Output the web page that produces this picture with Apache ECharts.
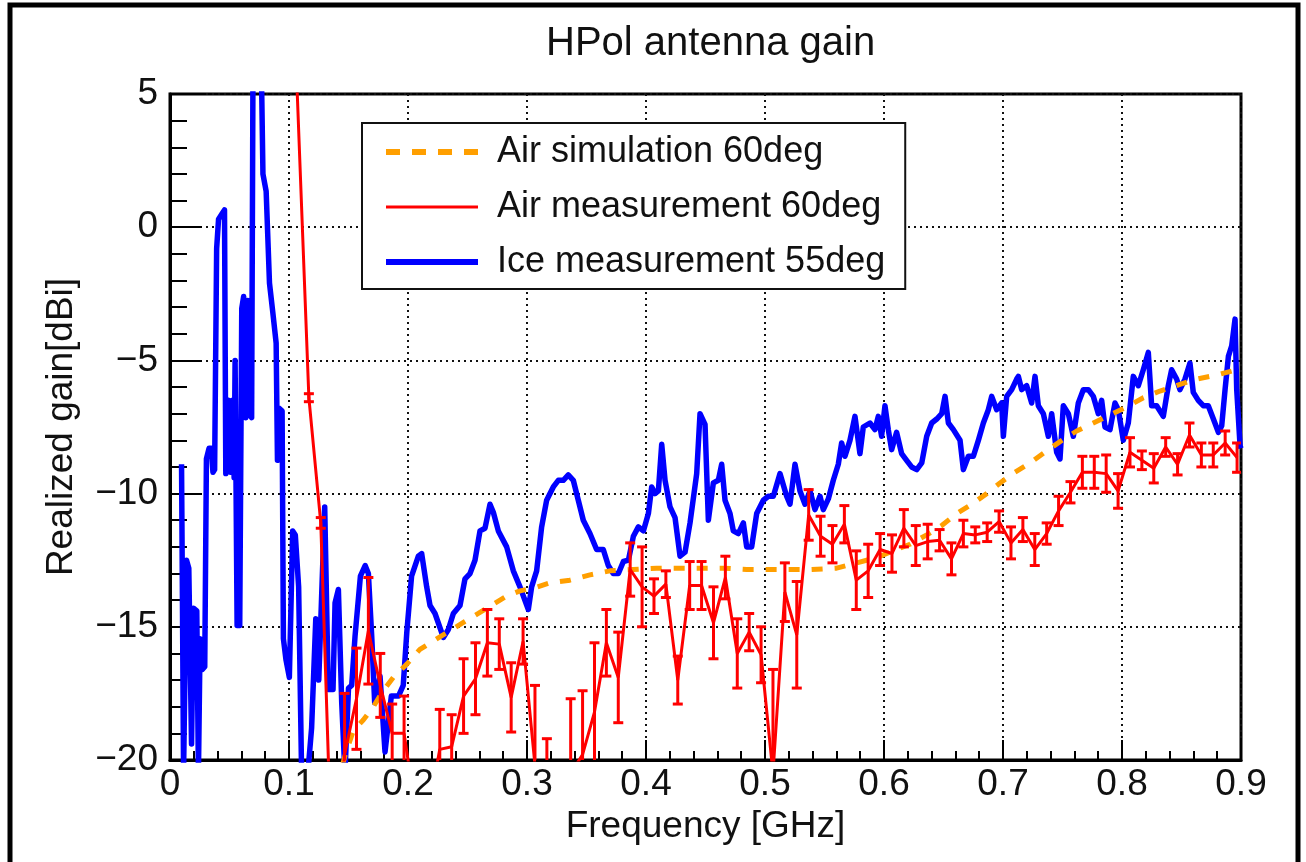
<!DOCTYPE html>
<html>
<head>
<meta charset="utf-8">
<title>HPol antenna gain</title>
<script src="https://cdn.jsdelivr.net/npm/echarts@6/dist/echarts.min.js"></script>
<style>
  html, body { margin: 0; padding: 0; background: #fff; }
  #chart { width: 1306px; height: 862px; }
</style>
</head>
<body>
<div id="chart"></div>
<script>
// Axis ranges and tick labels
const freqMin = 0, freqMax = 0.9, freqStep = 0.1;
const gainMin = -20, gainMax = 5, gainStep = 5;

// Air simulation, 60 deg (GHz, dBi)
const simFreq = [0.1450,0.1470,0.1540,0.1624,0.1708,0.1792,0.1876,0.1990,0.2100,0.2241,0.2353,0.2479,0.2591,0.2717,0.2829,0.2941,0.3053,0.3193,0.3361,0.3529,0.3697,0.3894,0.4090,0.4258,0.4454,0.4650,0.4846,0.5042,0.5238,0.5378,0.5602,0.5770,0.5938,0.6078,0.6218,0.6359,0.6485,0.6611,0.6737,0.6863,0.6975,0.7101,0.7227,0.7367,0.7479,0.7619,0.7759,0.7899,0.8039,0.8179,0.8319,0.8487,0.8627,0.8796,0.8964,0.9000];
const simGain = [-20.2,-19.85,-18.9,-18.5,-18.0,-17.4,-16.9,-16.4,-15.85,-15.45,-15.15,-14.8,-14.5,-14.15,-13.85,-13.65,-13.55,-13.35,-13.25,-13.05,-12.9,-12.85,-12.8,-12.8,-12.8,-12.8,-12.85,-12.85,-12.85,-12.85,-12.8,-12.6,-12.4,-12.15,-11.9,-11.55,-11.2,-10.75,-10.4,-10.0,-9.6,-9.2,-8.85,-8.4,-8.05,-7.65,-7.35,-7.05,-6.75,-6.4,-6.15,-5.9,-5.7,-5.55,-5.35,-5.3];

// Air measurement, 60 deg, with symmetric uncertainty
const airFreq = [0.1067,0.1167,0.1267,0.1367,0.1467,0.1567,0.1667,0.1767,0.1867,0.1967,0.2067,0.2167,0.2267,0.2367,0.2467,0.2567,0.2667,0.2767,0.2867,0.2967,0.3067,0.3167,0.3267,0.3367,0.3467,0.3567,0.3667,0.3767,0.3867,0.3967,0.4067,0.4167,0.4267,0.4367,0.4467,0.4567,0.4667,0.4767,0.4867,0.4967,0.5067,0.5167,0.5267,0.5367,0.5467,0.5567,0.5667,0.5767,0.5867,0.5967,0.6067,0.6167,0.6267,0.6367,0.6467,0.6567,0.6667,0.6767,0.6867,0.6967,0.7067,0.7167,0.7267,0.7367,0.7467,0.7567,0.7667,0.7767,0.7867,0.7967,0.8067,0.8167,0.8267,0.8367,0.8467,0.8567,0.8667,0.8767,0.8867,0.8967];
const airGain = [5.3,-6.4,-11.1,-25.0,-19.8,-17.7,-15.15,-17.2,-19.0,-19.0,-22.0,-22.0,-19.6,-19.5,-17.6,-16.95,-15.6,-15.65,-17.65,-15.55,-20.2,-21.0,-23.0,-20.5,-19.8,-18.2,-15.6,-16.9,-12.85,-13.5,-13.85,-13.4,-17.0,-13.45,-13.45,-14.85,-13.15,-16.0,-15.2,-16.05,-20.5,-13.7,-15.3,-10.8,-11.6,-11.9,-11.15,-13.25,-12.9,-12.1,-12.25,-11.3,-11.95,-11.8,-11.75,-12.45,-11.5,-11.55,-11.45,-11.05,-11.85,-11.35,-12.1,-11.5,-10.65,-9.95,-9.2,-9.2,-9.25,-9.9,-8.45,-8.75,-9.05,-8.25,-8.9,-7.8,-8.55,-8.55,-8.1,-8.65];
const airErr = [0,0.15,0.2,0,2.3,1.9,2.0,1.2,1.1,1.4,0.5,0.5,1.5,1.2,1.4,1.35,1.25,0.95,1.3,0.85,3.0,1.8,1.5,2.8,2.4,2.6,1.25,1.7,1.0,1.5,0.65,0.5,0.9,0.9,0.9,1.35,0.8,1.3,0.7,1.05,3.9,1.1,2.0,0.95,0.75,0.7,0.7,1.1,1.0,0.6,0.7,0.7,0.75,0.65,0.4,0.6,0.5,0.3,0.35,0.4,0.6,0.45,0.6,0.4,0.55,0.4,0.6,0.6,0.7,0.65,0.55,0.35,0.55,0.35,0.4,0.45,0.45,0.45,0.45,0.55];

// Ice measurement, 55 deg
const iceFreq = [0.0097,0.0114,0.0139,0.0158,0.0181,0.0197,0.0225,0.0239,0.0253,0.0272,0.0292,0.0306,0.0328,0.0347,0.0361,0.0375,0.0392,0.0408,0.0436,0.0458,0.0469,0.0492,0.0508,0.0525,0.0539,0.0547,0.0564,0.0586,0.0603,0.0619,0.0636,0.0653,0.0669,0.0686,0.0697,0.0730,0.0769,0.0781,0.0808,0.0836,0.0864,0.0892,0.0903,0.0919,0.0942,0.0953,0.0975,0.1003,0.1031,0.1053,0.1081,0.1106,0.1162,0.1190,0.1225,0.1250,0.1300,0.1330,0.1370,0.1387,0.1415,0.1443,0.1470,0.1500,0.1527,0.1555,0.1600,0.1640,0.1667,0.1695,0.1720,0.1765,0.1807,0.1860,0.1920,0.1960,0.1990,0.2030,0.2087,0.2115,0.2157,0.2185,0.2227,0.2297,0.2339,0.2381,0.2437,0.2479,0.2521,0.2563,0.2605,0.2647,0.2689,0.2717,0.2759,0.2829,0.2885,0.2941,0.3011,0.3039,0.3081,0.3123,0.3165,0.3221,0.3263,0.3305,0.3347,0.3389,0.3431,0.3473,0.3529,0.3585,0.3641,0.3683,0.3725,0.3768,0.3810,0.3852,0.3894,0.3936,0.3978,0.4020,0.4048,0.4076,0.4104,0.4132,0.4160,0.4202,0.4244,0.4286,0.4328,0.4370,0.4426,0.4454,0.4496,0.4524,0.4566,0.4608,0.4636,0.4664,0.4706,0.4734,0.4776,0.4818,0.4846,0.4888,0.4930,0.4986,0.5028,0.5070,0.5126,0.5182,0.5210,0.5252,0.5294,0.5336,0.5378,0.5420,0.5462,0.5490,0.5532,0.5574,0.5616,0.5644,0.5672,0.5714,0.5756,0.5798,0.5826,0.5882,0.5924,0.5952,0.5980,0.6008,0.6036,0.6064,0.6106,0.6148,0.6190,0.6232,0.6275,0.6317,0.6359,0.6401,0.6443,0.6485,0.6513,0.6541,0.6583,0.6639,0.6667,0.6709,0.6751,0.6793,0.6835,0.6877,0.6905,0.6947,0.6989,0.7003,0.7031,0.7073,0.7115,0.7129,0.7157,0.7199,0.7241,0.7269,0.7297,0.7339,0.7381,0.7409,0.7451,0.7479,0.7507,0.7549,0.7591,0.7633,0.7675,0.7717,0.7759,0.7801,0.7829,0.7857,0.7899,0.7941,0.7969,0.8011,0.8053,0.8095,0.8137,0.8179,0.8221,0.8249,0.8291,0.8347,0.8389,0.8417,0.8459,0.8487,0.8529,0.8571,0.8599,0.8641,0.8683,0.8725,0.8768,0.8810,0.8838,0.8866,0.8894,0.8922,0.8950,0.8964,0.8992,0.9000];
const iceGain = [-8.9,-20.5,-12.5,-12.8,-19.4,-14.3,-14.4,-20.5,-15.45,-16.6,-16.5,-8.7,-8.3,-8.3,-9.2,-9.1,-0.8,0.3,0.5,0.65,-9.25,-6.5,-9.2,-6.5,-9.4,-5.0,-14.95,-14.95,-3.05,-2.6,-7.15,-2.75,-7.05,-7.15,5.6,7.0,5.6,2.0,1.35,-2.1,-3.2,-4.35,-8.75,-6.8,-6.9,-15.45,-16.25,-16.9,-11.4,-11.55,-13.5,-20.5,-20.3,-18.8,-14.7,-17.0,-10.5,-17.35,-17.35,-14.1,-13.6,-17.85,-20.5,-17.3,-17.2,-15.35,-13.1,-12.7,-13.0,-15.35,-17.85,-16.85,-19.7,-17.6,-17.6,-17.2,-15.2,-13.1,-12.35,-12.25,-13.5,-14.2,-14.5,-15.4,-15.1,-14.5,-14.2,-13.2,-13.0,-12.5,-11.4,-11.3,-10.4,-10.7,-11.4,-12.0,-12.9,-13.5,-14.35,-13.5,-12.9,-11.25,-10.25,-9.75,-9.5,-9.5,-9.3,-9.5,-10.25,-11.0,-11.5,-12.1,-12.1,-12.7,-13.0,-13.0,-12.55,-12.5,-11.6,-11.25,-11.4,-10.75,-9.75,-10.0,-9.9,-8.15,-9.5,-10.5,-10.9,-12.35,-12.2,-11.1,-9.25,-7.0,-7.4,-11.0,-9.6,-9.5,-8.9,-10.25,-10.75,-11.4,-11.5,-11.1,-12.0,-12.0,-10.75,-10.25,-10.1,-10.1,-9.25,-10.1,-10.4,-8.9,-9.9,-10.4,-9.9,-10.6,-10.1,-10.6,-10.2,-9.5,-8.9,-8.1,-8.6,-8.0,-7.1,-8.5,-7.5,-7.35,-7.6,-7.1,-7.85,-6.7,-7.6,-8.35,-7.7,-8.5,-8.75,-9.0,-9.1,-8.85,-7.85,-7.35,-7.2,-7.0,-6.35,-7.35,-7.6,-8.0,-9.1,-8.6,-8.6,-8.0,-7.35,-6.85,-6.35,-6.85,-6.6,-7.85,-6.35,-6.1,-5.7,-5.6,-6.1,-5.95,-6.6,-5.6,-6.7,-7.0,-7.85,-7.0,-8.45,-8.7,-6.7,-7.0,-7.85,-6.6,-6.1,-6.1,-6.35,-7.0,-6.5,-7.5,-7.6,-6.6,-6.85,-8.0,-7.35,-5.6,-5.95,-5.35,-4.7,-6.7,-6.7,-7.1,-5.95,-5.35,-5.7,-6.1,-5.7,-5.1,-6.2,-6.5,-6.7,-6.7,-7.2,-7.7,-7.45,-6.1,-4.85,-4.45,-3.45,-6.1,-8.2,-8.3];

const FONT = 'Liberation Sans, Arial, Helvetica, sans-serif';
const zip = (xs, ys) => xs.map((x, i) => [x, ys[i]]);

const chart = echarts.init(document.getElementById('chart'), null, { renderer: 'canvas' });

// Vertical error bar with small caps, clipped to the y range
function renderErrorBar(params, api) {
  const x = api.value(0), lo = api.value(1), hi = api.value(2);
  if (hi <= lo || hi < gainMin || lo > gainMax) return null;
  const top = api.coord([x, Math.min(hi, gainMax)]);
  const bot = api.coord([x, Math.max(lo, gainMin)]);
  const style = { stroke: '#ff0000', lineWidth: 3 };
  const cap = 5;
  const children = [{ type: 'line', shape: { x1: top[0], y1: top[1], x2: bot[0], y2: bot[1] }, style }];
  if (hi <= gainMax) children.push({ type: 'line', shape: { x1: top[0] - cap, y1: top[1], x2: top[0] + cap, y2: top[1] }, style });
  if (lo >= gainMin) children.push({ type: 'line', shape: { x1: bot[0] - cap, y1: bot[1], x2: bot[0] + cap, y2: bot[1] }, style });
  return { type: 'group', children };
}

const gridLine = { show: true, lineStyle: { color: '#111', width: 2, type: [2, 4] } };

chart.setOption({
  animation: false,
  backgroundColor: '#ffffff',
  textStyle: { fontFamily: FONT },
  title: {
    text: 'HPol antenna gain',
    left: 541,
    top: 19,
    textStyle: { fontFamily: FONT, fontSize: 40, fontWeight: 'normal', color: '#111' }
  },
  graphic: [{
    type: 'rect',
    shape: { x: 10, y: 5, width: 1288, height: 880 },
    style: { fill: 'none', stroke: '#000', lineWidth: 5 },
    silent: true
  }],
  legend: {
    orient: 'vertical',
    left: 362,
    top: 123,
    padding: [9, 20, 7, 21],
    borderColor: '#111',
    borderWidth: 2,
    backgroundColor: '#fff',
    itemWidth: 92,
    itemHeight: 14,
    itemGap: 15,
    selectedMode: false,
    itemStyle: { opacity: 0, color: 'transparent', borderWidth: 0 },
    textStyle: { fontFamily: FONT, fontSize: 36, color: '#111', lineHeight: 40, padding: [0, 0, 0, 14] },
    data: [
      { name: 'Air simulation 60deg', lineStyle: { color: '#ff9f00', width: 6, type: [14, 12] } },
      { name: 'Air measurement 60deg', lineStyle: { color: '#ff0000', width: 3 } },
      { name: 'Ice measurement 55deg', lineStyle: { color: '#0000ff', width: 6 } }
    ]
  },
  grid: {
    left: 170, right: 65, top: 94, bottom: 102,
    show: true, borderColor: '#000', borderWidth: 3, backgroundColor: '#fff'
  },
  xAxis: {
    type: 'value',
    min: freqMin, max: freqMax, interval: freqStep,
    name: 'Frequency [GHz]',
    nameLocation: 'middle',
    nameGap: 38,
    nameTextStyle: { fontFamily: FONT, fontSize: 37, color: '#111' },
    axisLine: { show: true, onZero: false, lineStyle: { color: '#000', width: 3 } },
    axisTick: { show: true, inside: true, length: 20, lineStyle: { color: '#000', width: 2 } },
    minorTick: { show: true, splitNumber: 5, length: 9, lineStyle: { color: '#000', width: 2 } },
    splitLine: gridLine,
    axisLabel: {
      fontFamily: FONT, fontSize: 37, color: '#111', margin: 6,
      formatter: v => (Math.abs(v) < 1e-9 ? '0' : v.toFixed(1))
    }
  },
  yAxis: {
    type: 'value',
    min: gainMin, max: gainMax, interval: gainStep,
    name: 'Realized gain[dBi]',
    nameLocation: 'middle',
    nameGap: 90,
    nameRotate: 90,
    nameTextStyle: { fontFamily: FONT, fontSize: 37, color: '#111' },
    axisLine: { show: true, onZero: false, lineStyle: { color: '#000', width: 3 } },
    axisTick: { show: true, inside: true, length: 32, lineStyle: { color: '#000', width: 2 } },
    minorTick: { show: true, splitNumber: 5, length: 17, lineStyle: { color: '#000', width: 2 } },
    splitLine: gridLine,
    axisLabel: {
      fontFamily: FONT, fontSize: 37, color: '#111', margin: 12,
      formatter: v => String(v).replace('-', '\u2212')
    }
  },
  series: [
    {
      name: 'Ice measurement 55deg',
      type: 'line',
      data: zip(iceFreq, iceGain),
      symbol: 'none',
      clip: true,
      z: 2,
      lineStyle: { color: '#0000ff', width: 5.5, join: 'round' },
      itemStyle: { color: '#0000ff' }
    },
    {
      name: 'Air simulation 60deg',
      type: 'line',
      data: zip(simFreq, simGain),
      symbol: 'none',
      clip: true,
      z: 3,
      lineStyle: { color: '#ff9f00', width: 5, type: [11, 12] },
      itemStyle: { color: '#ff9f00' }
    },
    {
      name: 'Air measurement 60deg',
      type: 'line',
      data: zip(airFreq, airGain),
      symbol: 'none',
      clip: true,
      z: 4,
      lineStyle: { color: '#ff0000', width: 3 },
      itemStyle: { color: '#ff0000' }
    },
    {
      name: 'Air measurement 60deg errors',
      type: 'custom',
      renderItem: renderErrorBar,
      clip: true,
      z: 4,
      data: airFreq.map((f, i) => [f, airGain[i] - airErr[i], airGain[i] + airErr[i]]),
      encode: { x: 0, y: [1, 2] }
    }
  ]
});
</script>
</body>
</html>
